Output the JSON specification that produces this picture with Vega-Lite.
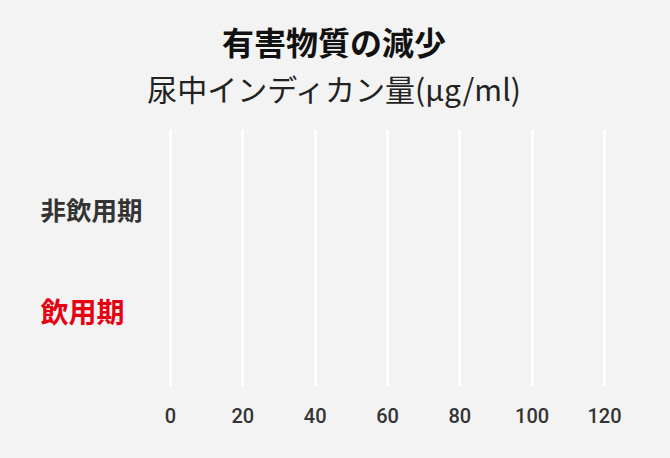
{
  "$schema": "https://vega.github.io/schema/vega-lite/v6.json",
  "autosize": "none",
  "width": 434,
  "height": 257,
  "padding": {"left": 170, "top": 129, "right": 66, "bottom": 72},
  "background": "#f3f3f3",
  "title": {
    "text": "有害物質の減少",
    "subtitle": "尿中インディカン量(μg/ml)",
    "anchor": "middle",
    "frame": "group",
    "dx": -53,
    "offset": 21,
    "font": "Noto Sans CJK JP",
    "fontSize": 32,
    "fontWeight": "bold",
    "color": "#111111",
    "subtitleFont": "Noto Sans CJK JP",
    "subtitleFontSize": 30,
    "subtitleFontWeight": "normal",
    "subtitleColor": "#222222",
    "subtitlePadding": 15
  },
  "data": {
    "values": [
      {"period": "非飲用期", "indican": 0},
      {"period": "飲用期", "indican": 0}
    ]
  },
  "mark": {"type": "bar"},
  "encoding": {
    "y": {
      "field": "period",
      "type": "nominal",
      "sort": ["非飲用期", "飲用期"],
      "scale": {"paddingInner": 0.4, "paddingOuter": 0.44},
      "axis": {
        "title": null,
        "domain": false,
        "ticks": false,
        "tickSize": 0,
        "labelAlign": "left",
        "labelPadding": 130,
        "labelOffset": 6,
        "labelFont": "Noto Sans CJK JP",
        "labelFontWeight": "bold",
        "labelFontSize": {"condition": {"test": "datum.value == '飲用期'", "value": 28}, "value": 25.5},
        "labelColor": {"condition": {"test": "datum.value == '飲用期'", "value": "#e60012"}, "value": "#333333"}
      }
    },
    "x": {
      "field": "indican",
      "type": "quantitative",
      "scale": {"domain": [0, 120], "nice": false},
      "axis": {
        "title": null,
        "values": [0, 20, 40, 60, 80, 100, 120],
        "domain": false,
        "ticks": false,
        "grid": true,
        "gridColor": "#ffffff",
        "gridWidth": 3,
        "gridOpacity": 1,
        "labelFlush": false,
        "labelPadding": 20,
        "labelFont": "Roboto",
        "labelFontWeight": 500,
        "labelFontSize": 20,
        "labelColor": "#333333"
      }
    },
    "color": {
      "field": "period",
      "type": "nominal",
      "scale": {"domain": ["非飲用期", "飲用期"], "range": ["#333333", "#e60012"]},
      "legend": null
    }
  },
  "config": {
    "view": {"stroke": null}
  }
}
